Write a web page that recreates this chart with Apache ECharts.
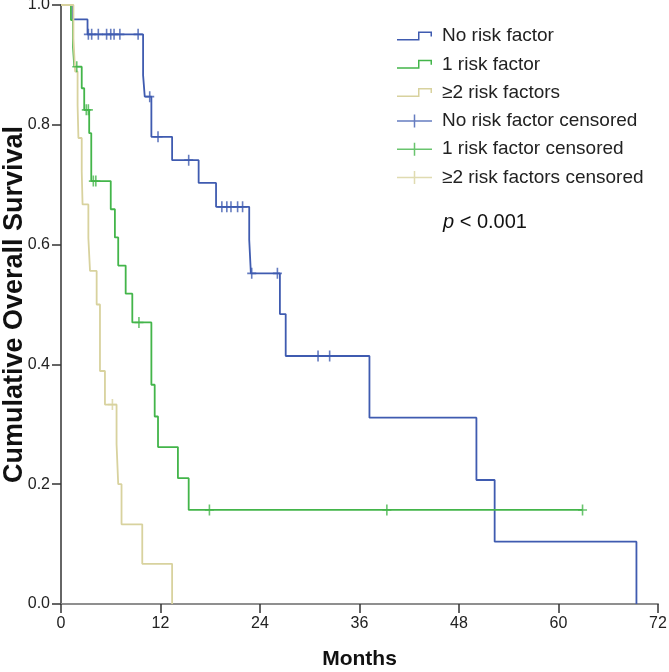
<!DOCTYPE html>
<html>
<head>
<meta charset="utf-8">
<script src="https://cdn.jsdelivr.net/npm/echarts@6/dist/echarts.min.js"></script>
<style>html,body{margin:0;padding:0;background:#fff}#c{width:669px;height:672px}</style>
</head>
<body>
<div id="c"></div>
<script>
// ---- data ----
const xTickInterval = 12;      // months
const yTickInterval = 0.2;
const xMax = 72;
const seriesNames = ['No risk factor', '1 risk factor', '\u22652 risk factors',
  'No risk factor censored', '1 risk factor censored', '\u22652 risk factors censored'];

// Kaplan-Meier steps: [month, survival after the event]
const noRiskCurve = [[0,1],[1.4,0.976],[3.2,0.951],[9.9,0.883],[10.1,0.847],[10.9,0.78],[13.4,0.741],
  [16.6,0.703],[18.7,0.663],[22.7,0.608],[22.9,0.552],[26.4,0.484],[27.1,0.414],[37.2,0.311],
  [50.1,0.207],[52.3,0.104],[69.4,0]];
const noRiskCensored = [[3.3,0.951],[3.7,0.951],[4.5,0.951],[5.5,0.951],[6.0,0.951],[6.4,0.951],
  [7.1,0.951],[9.3,0.951],[10.7,0.847],[11.7,0.78],[15.4,0.741],[19.4,0.663],[20.0,0.663],
  [20.5,0.663],[21.3,0.663],[21.9,0.663],[23.0,0.552],[26.1,0.552],[31.0,0.414],[32.4,0.414]];

const oneRiskCurve = [[0,1],[1.2,0.975],[1.45,0.93],[1.6,0.897],[2.5,0.861],[2.8,0.825],[3.4,0.786],
  [3.65,0.706],[6.0,0.659],[6.5,0.612],[6.9,0.565],[7.8,0.518],[8.6,0.47],[10.9,0.366],
  [11.3,0.313],[11.7,0.262],[14.1,0.21],[15.4,0.157],[62.9,0.157]];
const oneRiskCensored = [[1.9,0.897],[3.05,0.825],[3.3,0.825],[3.9,0.706],[4.2,0.706],[9.4,0.47],
  [17.9,0.157],[39.3,0.157],[62.9,0.157]];

const twoRiskCurve = [[0,1],[1.5,0.944],[1.7,0.889],[2.0,0.833],[2.1,0.778],[2.5,0.722],[2.6,0.667],
  [3.3,0.611],[3.5,0.556],[4.3,0.5],[4.7,0.389],[5.3,0.333],[6.7,0.267],[6.9,0.2],[7.3,0.133],
  [9.8,0.067],[13.4,0]];
const twoRiskCensored = [[6.2,0.333]];

// ---- styles ----
const colors = ['#3f5bb0', '#43b54a', '#d8d29e'];
const FONT = 'Liberation Sans, Arial, sans-serif';
const stepIcon = 'path://M0,7.5 H21 V0 H35 V5 H33.5 V1.5 H22.5 V9 H0 Z';
const crossIcon = 'path://M0,5.75 H35 V7.25 H0 Z M16.75,0 H18.25 V13 H16.75 Z';
const censorSymbol = 'path://M-0.8,-5.5 H0.8 V5.5 H-0.8 Z M-4.5,-0.8 H4.5 V0.8 H-4.5 Z';

const curves = [noRiskCurve, oneRiskCurve, twoRiskCurve];
const censored = [noRiskCensored, oneRiskCensored, twoRiskCensored];

const series = [];
curves.forEach((d, i) => series.push({
  type: 'line', name: seriesNames[i], step: 'end', data: d,
  symbol: 'none', showSymbol: false, animation: false,
  lineStyle: { color: colors[i], width: 1.8 }, itemStyle: { color: colors[i] }, z: 2
}));
censored.forEach((d, i) => series.push({
  type: 'scatter', name: seriesNames[i + 3], data: d,
  symbol: censorSymbol, symbolSize: [9, 11], animation: false,
  itemStyle: { color: colors[i] }, z: 3
}));

const chart = echarts.init(document.getElementById('c'), null, { renderer: 'canvas' });
chart.setOption({
  backgroundColor: '#fff',
  animation: false,
  grid: { left: 61, right: 11, top: 5, bottom: 68, containLabel: false, outerBoundsMode: 'none' },
  xAxis: {
    type: 'value', min: 0, max: xMax, interval: xTickInterval,
    name: 'Months', nameLocation: 'middle', nameGap: 45, nameMoveOverlap: false,
    nameTextStyle: { fontFamily: FONT, fontSize: 21, fontWeight: 'bold', color: '#111' },
    axisLine: { show: true, lineStyle: { color: '#8f8f8f', width: 2 } },
    axisTick: { show: true, inside: false, length: 9, lineStyle: { color: '#333', width: 1.5 } },
    axisLabel: { fontFamily: FONT, fontSize: 16, color: '#222', margin: 12 },
    splitLine: { show: false }
  },
  yAxis: {
    type: 'value', min: 0, max: 1, interval: yTickInterval,
    name: 'Cumulative Overall Survival', nameLocation: 'middle', nameGap: 33, nameMoveOverlap: false,
    nameTextStyle: { fontFamily: FONT, fontSize: 27, fontWeight: 'bold', color: '#111' },
    axisLine: { show: true, lineStyle: { color: '#333', width: 1.5 } },
    axisTick: { show: true, inside: false, length: 9, lineStyle: { color: '#333', width: 1.5 } },
    axisLabel: { fontFamily: FONT, fontSize: 16, color: '#222', margin: 11,
      formatter: v => v.toFixed(1) },
    splitLine: { show: false }
  },
  legend: {
    orient: 'vertical', left: 397, top: 26, padding: 0,
    itemWidth: 35, itemHeight: 13, itemGap: 8.3,
    selectedMode: false,
    itemStyle: { borderWidth: 0 },
    textStyle: { fontFamily: FONT, fontSize: 19, color: '#222', lineHeight: 20, padding: [0, 0, 0, 5] },
    data: seriesNames.map((n, i) => ({ name: n, icon: i < 3 ? stepIcon : crossIcon }))
  },
  graphic: [{
    type: 'text', left: 443, top: 212,
    style: {
      text: '{i|p} < 0.001',
      rich: { i: { fontStyle: 'italic', fontFamily: FONT, fontSize: 20, fill: '#111' } },
      fontFamily: FONT, fontSize: 20, fill: '#111'
    }
  }],
  series: series
});
</script>
</body>
</html>
